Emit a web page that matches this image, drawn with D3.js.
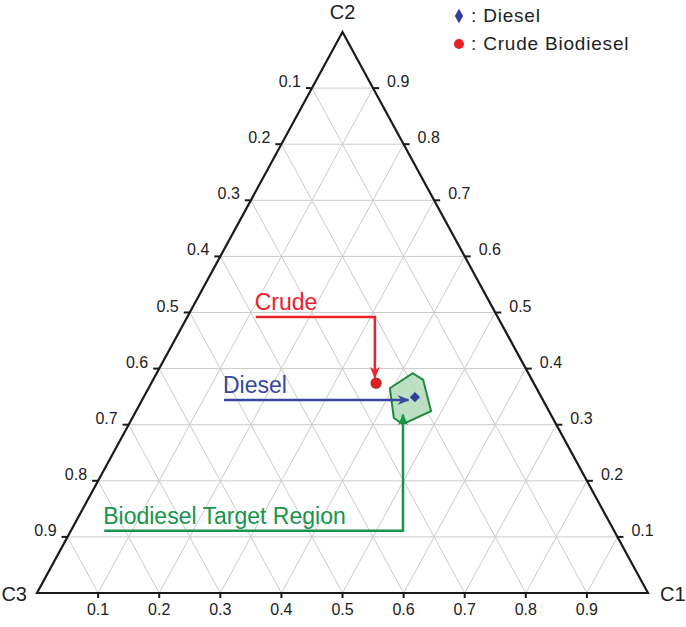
<!DOCTYPE html>
<html>
<head>
<meta charset="utf-8">
<script src="https://cdn.jsdelivr.net/npm/d3@7"></script>
<style>
  body { margin: 0; background: #fff; }
  text { font-family: Arial, "Liberation Sans", sans-serif; }
</style>
</head>
<body>
<div id="vis"></div>
<script>

var width = 686,
  height = 627

// ternary data: [c1, c2, c3]
var ticks = [ 0.1, 0.2, 0.3, 0.4, 0.5, 0.6, 0.7, 0.8, 0.9 ];
var vertexLabels = [ 'C1', 'C2', 'C3' ];

var dieselPoint = [ 0.444, 0.349, 0.207 ];
var crudePoint = [ 0.368, 0.374, 0.258 ];

var targetRegion = [
  [ 0.395, 0.365, 0.240 ],
  [ 0.419, 0.392, 0.189 ],
  [ 0.442, 0.380, 0.178 ],
  [ 0.483, 0.324, 0.193 ],
  [ 0.448, 0.301, 0.251 ],
  [ 0.428, 0.312, 0.260 ]
];

// annotation paths in (u, c2) space: u = c1 + c2 / 2
var annotations = [
  { text: 'Crude', color: '#e8232b', path: [ [ 0.358, 0.492 ], [ 0.553, 0.492 ], [ 0.553, 0.384 ] ] },
  { text: 'Diesel', color: '#3548a0', path: [ [ 0.306, 0.344 ], [ 0.608, 0.344 ] ] },
  { text: 'Biodiesel Target Region', color: '#17954a', path: [ [ 0.110, 0.111 ], [ 0.599, 0.111 ], [ 0.599, 0.318 ] ] }
];

var legendItems = [
  { label: ': Diesel', symbol: d3.symbolDiamond, color: '#2e3f9c' },
  { label: ': Crude Biodiesel', symbol: d3.symbolCircle, color: '#e8202a' }
];

/* Scales */

var x = d3.scaleLinear()
  .domain( [ 0, 1 ] )
  .range( [ 37, 648 ] );

var y = d3.scaleLinear()
  .domain( [ 0, 1 ] )
  .range( [ 593, 32 ] );

function px( p ) { return x( p[ 0 ] + p[ 1 ] / 2 ); }
function py( p ) { return y( p[ 1 ] ); }

var line = d3.line()
  .x( d => x( d[ 0 ] ) )
  .y( d => y( d[ 1 ] ) );

/* Drawing */

var svg = d3.select( '#vis' ).append( 'svg' )
  .attr( 'width', width )
  .attr( 'height', height );

var defs = svg.append( 'defs' );

annotations.forEach( ( a, i ) => {
  defs.append( 'marker' )
    .attr( 'id', 'arrow' + i )
    .attr( 'viewBox', '0 0 12 12' )
    .attr( 'refX', 11 )
    .attr( 'refY', 6 )
    .attr( 'markerWidth', 12 )
    .attr( 'markerHeight', 12 )
    .attr( 'markerUnits', 'userSpaceOnUse' )
    .attr( 'orient', 'auto' )
    .append( 'path' )
      .attr( 'd', 'M0,1 L12,6 L0,11 L4,6 Z' )
      .attr( 'fill', a.color );
} );

// Grid
var grid = svg.append( 'g' )
  .attr( 'stroke', '#cbcbcb' )
  .attr( 'stroke-width', 1 );

ticks.forEach( k => {
  // constant c2
  grid.append( 'line' )
    .attr( 'x1', px( [ 0, k, 1 - k ] ) ).attr( 'y1', py( [ 0, k, 1 - k ] ) )
    .attr( 'x2', px( [ 1 - k, k, 0 ] ) ).attr( 'y2', py( [ 1 - k, k, 0 ] ) );
  // constant c1
  grid.append( 'line' )
    .attr( 'x1', px( [ k, 1 - k, 0 ] ) ).attr( 'y1', py( [ k, 1 - k, 0 ] ) )
    .attr( 'x2', px( [ k, 0, 1 - k ] ) ).attr( 'y2', py( [ k, 0, 1 - k ] ) );
  // constant c3
  grid.append( 'line' )
    .attr( 'x1', px( [ 0, 1 - k, k ] ) ).attr( 'y1', py( [ 0, 1 - k, k ] ) )
    .attr( 'x2', px( [ 1 - k, 0, k ] ) ).attr( 'y2', py( [ 1 - k, 0, k ] ) );
} );

// Triangle
var corners = [ [ 1, 0, 0 ], [ 0, 1, 0 ], [ 0, 0, 1 ] ];

svg.append( 'path' )
  .attr( 'd', 'M' + corners.map( c => px( c ) + ',' + py( c ) ).join( 'L' ) + 'Z' )
  .attr( 'fill', 'none' )
  .attr( 'stroke', '#1a1a1a' )
  .attr( 'stroke-width', 2.2 )
  .attr( 'stroke-linejoin', 'miter' );

// Ticks and labels
var axes = svg.append( 'g' )
  .attr( 'font-size', 16 )
  .attr( 'fill', '#222' );

ticks.forEach( k => {
  // bottom: c1
  var b = [ k, 0, 1 - k ];
  axes.append( 'line' )
    .attr( 'x1', px( b ) ).attr( 'y1', py( b ) )
    .attr( 'x2', px( b ) ).attr( 'y2', py( b ) + 5 )
    .attr( 'stroke', '#1a1a1a' ).attr( 'stroke-width', 2 );
  axes.append( 'text' )
    .attr( 'x', px( b ) ).attr( 'y', py( b ) + 22 )
    .attr( 'text-anchor', 'middle' )
    .text( k );

  // left: c3
  var l = [ 0, 1 - k, k ];
  axes.append( 'line' )
    .attr( 'x1', px( l ) ).attr( 'y1', py( l ) )
    .attr( 'x2', px( l ) - 6 ).attr( 'y2', py( l ) )
    .attr( 'stroke', '#1a1a1a' ).attr( 'stroke-width', 2 );
  axes.append( 'text' )
    .attr( 'x', px( l ) - 11 ).attr( 'y', py( l ) - 1 )
    .attr( 'text-anchor', 'end' )
    .text( k );

  // right: c2
  var r = [ 1 - k, k, 0 ];
  axes.append( 'line' )
    .attr( 'x1', px( r ) ).attr( 'y1', py( r ) )
    .attr( 'x2', px( r ) + 6 ).attr( 'y2', py( r ) )
    .attr( 'stroke', '#1a1a1a' ).attr( 'stroke-width', 2 );
  axes.append( 'text' )
    .attr( 'x', px( r ) + 14 ).attr( 'y', py( r ) - 1 )
    .attr( 'text-anchor', 'start' )
    .text( k );
} );

// Vertex labels
var vlab = svg.append( 'g' )
  .attr( 'font-size', 20 )
  .attr( 'fill', '#222' );

vlab.append( 'text' )
  .attr( 'x', px( corners[ 0 ] ) + 12 ).attr( 'y', py( corners[ 0 ] ) + 8 )
  .text( vertexLabels[ 0 ] );
vlab.append( 'text' )
  .attr( 'x', px( corners[ 1 ] ) ).attr( 'y', py( corners[ 1 ] ) - 13 )
  .attr( 'text-anchor', 'middle' )
  .text( vertexLabels[ 1 ] );
vlab.append( 'text' )
  .attr( 'x', px( corners[ 2 ] ) - 10 ).attr( 'y', py( corners[ 2 ] ) + 8 )
  .attr( 'text-anchor', 'end' )
  .text( vertexLabels[ 2 ] );

// Target region
svg.append( 'path' )
  .attr( 'd', 'M' + targetRegion.map( c => px( c ) + ',' + py( c ) ).join( 'L' ) + 'Z' )
  .attr( 'fill', '#b2dbb7' )
  .attr( 'fill-opacity', 0.85 )
  .attr( 'stroke', '#1e8a3e' )
  .attr( 'stroke-width', 2 );

// Annotations
annotations.forEach( ( a, i ) => {
  svg.append( 'path' )
    .attr( 'd', line( a.path ) )
    .attr( 'fill', 'none' )
    .attr( 'stroke', a.color )
    .attr( 'stroke-width', 2.5 )
    .attr( 'marker-end', 'url(#arrow' + i + ')' );

  svg.append( 'text' )
    .attr( 'x', x( a.path[ 0 ][ 0 ] ) - 1 )
    .attr( 'y', y( a.path[ 0 ][ 1 ] ) - 7 )
    .attr( 'font-size', 23 )
    .attr( 'fill', a.color )
    .text( a.text );
} );

// Points
svg.append( 'path' )
  .attr( 'd', d3.symbol( d3.symbolSquare, 52 )() )
  .attr( 'transform', 'translate(' + px( dieselPoint ) + ',' + py( dieselPoint ) + ') rotate(45)' )
  .attr( 'fill', '#2e3f9c' );

svg.append( 'circle' )
  .attr( 'cx', px( crudePoint ) )
  .attr( 'cy', py( crudePoint ) )
  .attr( 'r', 5 )
  .attr( 'fill', '#e02020' )
  .attr( 'stroke', '#a8241c' )
  .attr( 'stroke-width', 1.2 );

// Legend
var legend = svg.append( 'g' )
  .attr( 'transform', 'translate(459, 16)' );

legendItems.forEach( ( d, i ) => {
  var g = legend.append( 'g' )
    .attr( 'transform', 'translate(0,' + i * 28 + ')' );
  g.append( 'path' )
    .attr( 'd', d3.symbol( d.symbol, d.symbol === d3.symbolDiamond ? 60 : 80 )() )
    .attr( 'fill', d.color );
  g.append( 'text' )
    .attr( 'x', 12 )
    .attr( 'y', 6 )
    .attr( 'font-family', '"Open Sans", sans-serif' )
    .attr( 'font-size', 19 )
    .attr( 'letter-spacing', 0.8 )
    .attr( 'fill', '#222' )
    .text( d.label );
} );

</script>
</body>
</html>
